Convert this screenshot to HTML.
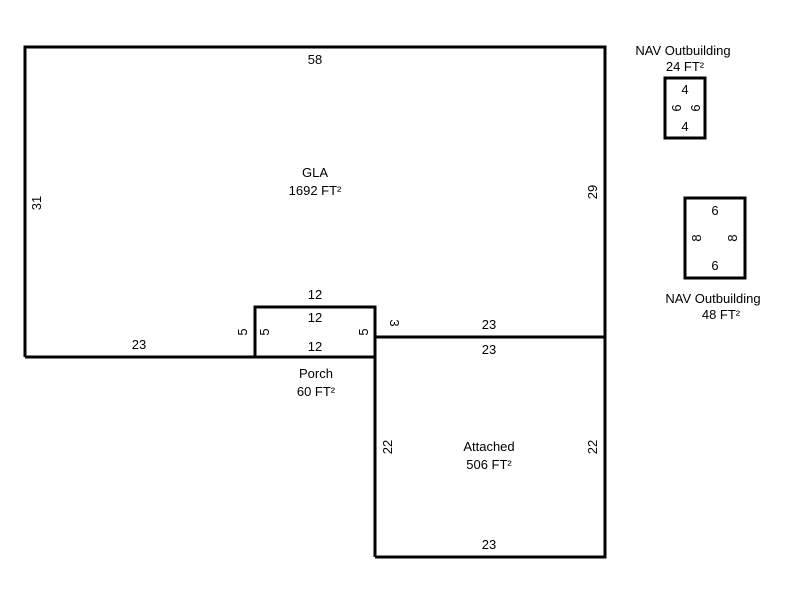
<!DOCTYPE html>
<html><head><meta charset="utf-8"><style>
html,body{margin:0;padding:0;background:#fff;}
svg{display:block;}
text{font-family:"Liberation Sans",Arial,sans-serif;font-size:13px;fill:#000;}
</style></head><body>
<svg width="800" height="600" viewBox="0 0 800 600" xmlns="http://www.w3.org/2000/svg">
<g fill="none" stroke="#000" stroke-width="3">
<polyline points="25,357 255,357 255,307 375,307 375,337 605,337 605,47 25,47 25,357"/>
<line x1="255" y1="357" x2="375" y2="357"/>
<line x1="375" y1="307" x2="375" y2="557"/>
<polyline points="375,557 605,557 605,337"/>
<rect x="665" y="78" width="40" height="60"/>
<rect x="685" y="198" width="60" height="80"/>
</g>
<g text-anchor="middle">
<text x="315" y="64">58</text>
<text x="315" y="177">GLA</text>
<text x="315" y="195">1692 FT²</text>
<text x="139" y="349">23</text>
<text x="315" y="299">12</text>
<text x="315" y="322">12</text>
<text x="315" y="351">12</text>
<text x="316" y="378">Porch</text>
<text x="316" y="396">60 FT²</text>
<text x="489" y="329">23</text>
<text x="489" y="354">23</text>
<text x="489" y="451">Attached</text>
<text x="489" y="469">506 FT²</text>
<text x="489" y="549">23</text>
<text x="683" y="55">NAV Outbuilding</text>
<text x="685" y="71">24 FT²</text>
<text x="685" y="94">4</text>
<text x="685" y="131">4</text>
<text x="715" y="215">6</text>
<text x="715" y="270">6</text>
<text x="713" y="303">NAV Outbuilding</text>
<text x="721" y="319">48 FT²</text>
<text transform="translate(41,203) rotate(-90)">31</text>
<text transform="translate(597,192) rotate(-90)">29</text>
<text transform="translate(247,332) rotate(-90)">5</text>
<text transform="translate(269,332) rotate(-90)">5</text>
<text transform="translate(368,332) rotate(-90)">5</text>
<text transform="translate(390,323) rotate(90)">3</text>
<text transform="translate(392,447) rotate(-90)">22</text>
<text transform="translate(597,447) rotate(-90)">22</text>
<text transform="translate(681,108) rotate(-90)">6</text>
<text transform="translate(700,108) rotate(-90)">6</text>
<text transform="translate(701,238) rotate(-90)">8</text>
<text transform="translate(737,238) rotate(-90)">8</text>
</g>
</svg>
</body></html>
